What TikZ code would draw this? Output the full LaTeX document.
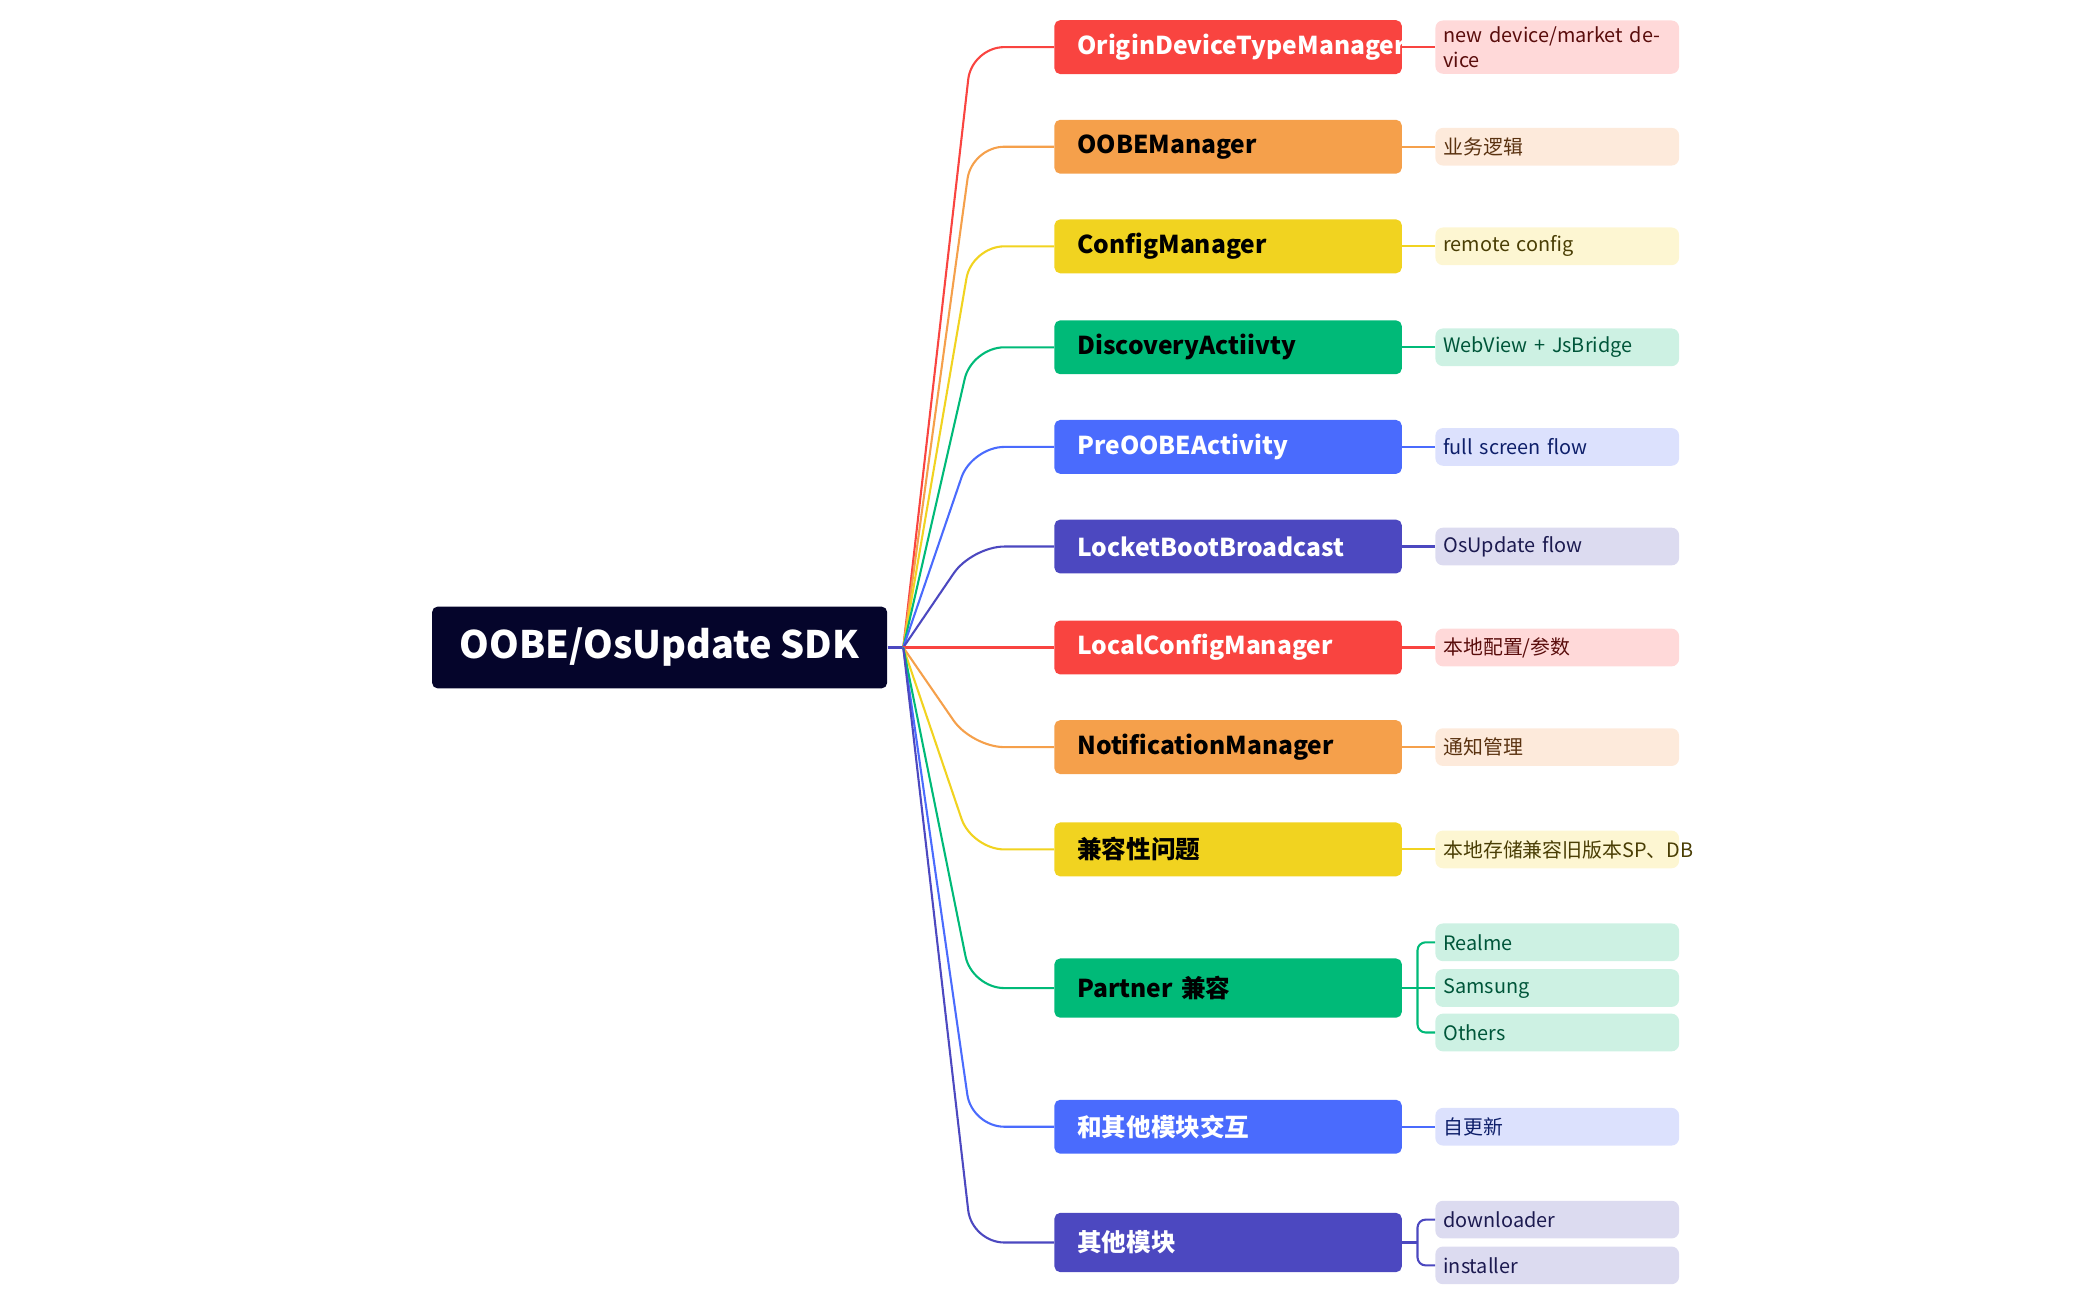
\documentclass[tikz,border=0pt]{standalone}
\usepackage{fontspec}
\setmainfont{Noto Sans CJK SC}
\usetikzlibrary{positioning}

\definecolor{cred}{HTML}{F94440}    \definecolor{lred}{HTML}{FFD9D9}    \definecolor{tred}{HTML}{5A0D0C}
\definecolor{corange}{HTML}{F5A04B} \definecolor{lorange}{HTML}{FDEADB} \definecolor{torange}{HTML}{5A3210}
\definecolor{cyellow}{HTML}{F1D320} \definecolor{lyellow}{HTML}{FDF6D2} \definecolor{tyellow}{HTML}{4A3E05}
\definecolor{cgreen}{HTML}{00BA78}  \definecolor{lgreen}{HTML}{CDF1E3}  \definecolor{tgreen}{HTML}{00563A}
\definecolor{cblue}{HTML}{4A6BFD}   \definecolor{lblue}{HTML}{DCE1FD}   \definecolor{tblue}{HTML}{0E1F6A}
\definecolor{cindigo}{HTML}{4C48C0} \definecolor{lindigo}{HTML}{DCDBF0} \definecolor{tindigo}{HTML}{1C1A50}
\definecolor{croot}{HTML}{05052B}

\tikzset{
  root/.style={fill=croot, text=white, rounded corners=3pt, font=\fontsize{20}{24}\selectfont\bfseries,
    minimum width=8.45cm, minimum height=1.52cm},
  branch/.style={fill=c#1, rounded corners=3pt, anchor=west, font=\fontsize{13}{16}\selectfont\bfseries,
    text width=5.6cm, inner xsep=0.425cm, align=left, minimum height=1cm},
  leaf/.style={fill=l#1, text=t#1, rounded corners=4pt, anchor=west, font=\fontsize{10.5}{13}\selectfont,
    text width=4.225cm, inner xsep=0.15cm, align=left, minimum height=0.7cm},
  link/.style={draw=c#1, line width=1.1pt, rounded corners=0.6cm},
  twig/.style={draw=c#1, line width=1.1pt, rounded corners=0.15cm},
}

\begin{document}
\begin{tikzpicture}[x=0.025cm, y=-0.025cm]
  \useasboundingbox (0,0) rectangle (1560,965);

  \node[root] (sdk) at (490,481) {OOBE/OsUpdate SDK};
  \coordinate (hub) at (671,481);
  \draw[line width=1.1pt, draw=cindigo] (sdk.east) -- (hub);

  % branches with one leaf
  \foreach \name/\y/\col/\tcol/\txt/\note in {
      b1/35/red/white/OriginDeviceTypeManager/new device\slash market device,
      b2/109/orange/black/OOBEManager/业务逻辑,
      b3/183/yellow/black/ConfigManager/remote config,
      b4/258/green/black/DiscoveryActiivty/WebView + JsBridge,
      b5/332/blue/white/PreOOBEActivity/full screen flow,
      b6/406/indigo/white/LocketBootBroadcast/OsUpdate flow,
      b7/481/red/white/LocalConfigManager/本地配置\slash 参数,
      b8/555/orange/black/NotificationManager/通知管理,
      b9/631/yellow/black/兼容性问题/本地存储兼容旧版本SP、DB,
      b11/837/blue/white/和其他模块交互/自更新}{
    \node[branch=\col, text=\tcol] (\name) at (783,\y) {\txt};
    \node[leaf=\col] (\name-n) at (1066,\y) {\note};
    \draw[link=\col] (hub) -- (722,\y) -- (\name.west);
    \draw[twig=\col] (\name.east) -- (\name-n.west);
  }

  % branches with several leaves
  \node[branch=green, minimum height=1.1cm] (b10) at (783,734) {Partner 兼容};
  \draw[link=green] (hub) -- (722,734) -- (b10.west);
  \node[leaf=green] (b10-a) at (1066,700) {Realme};
  \node[leaf=green] (b10-b) at (1066,734) {Samsung};
  \node[leaf=green] (b10-c) at (1066,767) {Others};
  \draw[twig=green] (b10.east) -- (b10-b.west);
  \draw[twig=green] (b10-a.west) -- (1053,700) -- (1053,767) -- (b10-c.west);

  \node[branch=indigo, text=white, minimum height=1.1cm] (b12) at (783,923) {其他模块};
  \draw[link=indigo] (hub) -- (722,923) -- (b12.west);
  \node[leaf=indigo] (b12-a) at (1066,906) {downloader};
  \node[leaf=indigo] (b12-b) at (1066,940) {installer};
  \draw[twig=indigo] (b12.east) -- (1053,923);
  \draw[twig=indigo] (b12-a.west) -- (1053,906) -- (1053,940) -- (b12-b.west);
\end{tikzpicture}
\end{document}
